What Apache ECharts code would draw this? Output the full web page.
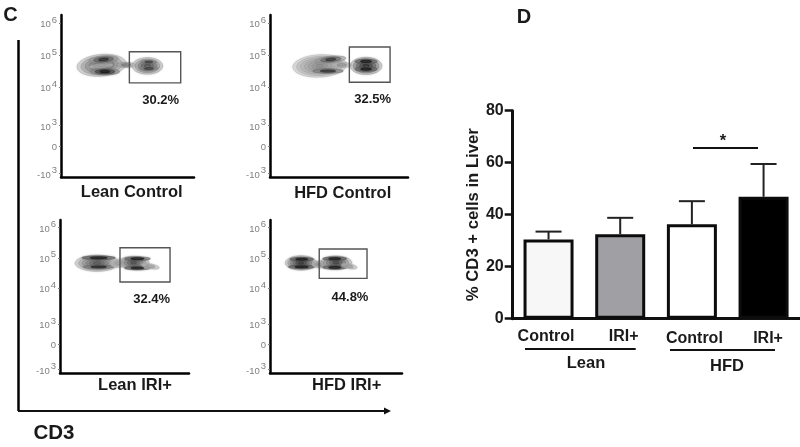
<!DOCTYPE html>
<html><head><meta charset="utf-8">
<script src="https://cdn.jsdelivr.net/npm/echarts@6/dist/echarts.min.js"></script>
<style>html,body{margin:0;padding:0;background:#fff}#c{width:800px;height:447px}</style>
</head><body><div id="c"></div>
<script>
// ---- Panel D: bar chart data
const barCategories = ['Control', 'IRI+', 'Control', 'IRI+'];
const barMeans = [30.5, 32.5, 36.3, 46.9];
const barErrorTops = [33.5, 38.8, 45.2, 59.5];
const barColors = ['#f7f7f7', '#a0a0a4', '#ffffff', '#000000'];
const barLabelPadding = [[0,5,0,0],[0,0,0,7],[2,0,0,5],[2,0,0,9]];
const barTicks = [0, 20, 40, 60, 80];

// ---- Panel C: flow plots. y unit = decade position on the biexponential axis
const flowTickValues = [1.3, 2.15, 2.8, 4, 5, 6];
const flowTickLabels = ['-10^3', '0', '10^3', '10^4', '10^5', '10^6'];
const flowTitles = ['Lean Control', 'HFD Control', 'Lean IRI+', 'HFD IRI+'];
const flowPercents = ['30.2%', '32.5%', '32.4%', '44.8%'];
// gate: [xMin, xMax, yMin, yMax]
const flowGates = [
  [51.4, 90, 4.13, 5.10],
  [57.5, 87, 4.15, 5.25],
  [46.5, 85.3, 4.20, 5.33],
  [37.3, 73.5, 4.32, 5.29]
];
// contour clusters: [x, y, xRadius, yRadius, tiltDegrees, tone 0-1, levels]
const leanControlContours = [
  [30.5, 4.68, 18.5, 0.34, 5, 0.62, 6],
  [33, 4.48, 11, 0.10, 0, 1.1, 3],
  [32, 4.86, 11, 0.11, 5, 0.85, 3],
  [30, 4.66, 9, 0.06, 5, 0.2, 2],
  [49, 4.69, 7, 0.08, 0, 0.45, 2],
  [65, 4.66, 11.5, 0.26, 0, 0.65, 5],
  [66, 4.58, 7, 0.06, 0, 0.75, 2],
  [66, 4.78, 6, 0.05, 0, 0.75, 2]
];
const hfdControlContours = [
  [36, 4.66, 19.5, 0.35, 3, 0.32, 7],
  [42, 4.50, 11, 0.07, 0, 0.85, 2],
  [44, 4.86, 11, 0.10, 5, 0.8, 3],
  [52, 4.69, 7, 0.08, 0, 0.3, 2],
  [69.6, 4.66, 11.5, 0.27, 0, 0.85, 5],
  [69.6, 4.80, 8, 0.07, 0, 1.1, 2],
  [69.6, 4.56, 8, 0.07, 0, 1.1, 2]
];
const leanIriContours = [
  [28.7, 4.82, 17, 0.27, 0, 0.6, 6],
  [30, 5.00, 13, 0.06, 0, 1.2, 2],
  [30, 4.70, 12, 0.06, 0, 0.9, 2],
  [45, 4.82, 6, 0.14, 0, 0.25, 3],
  [57, 4.84, 12, 0.21, 0, 0.65, 5],
  [60, 4.97, 10, 0.06, 0, 1.1, 2],
  [60, 4.66, 10, 0.06, 0, 1.2, 2],
  [70, 4.72, 7, 0.08, -10, 0.25, 2]
];
const hfdIriContours = [
  [23.5, 4.83, 12, 0.24, 0, 0.75, 6],
  [24, 4.95, 9, 0.06, 0, 1.2, 2],
  [24, 4.70, 10, 0.06, 0, 1.2, 2],
  [38, 4.78, 6, 0.12, 0, 0.4, 3],
  [50, 4.84, 12, 0.22, 0, 0.7, 5],
  [49, 4.97, 9, 0.06, 0, 1.2, 2],
  [49, 4.68, 9, 0.06, 0, 1.2, 2],
  [60, 4.72, 6, 0.08, -10, 0.25, 2]
];
const flowContours = [leanControlContours, hfdControlContours, leanIriContours, hfdIriContours];

// ---- Layout
const FONT = '"Liberation Sans", Arial, sans-serif';
const flowGrids = [
  {left: 61, top: 15, width: 133, height: 162},
  {left: 270, top: 15, width: 138, height: 162},
  {left: 60, top: 220, width: 129, height: 153},
  {left: 270, top: 220, width: 132, height: 153}
];
const titleAt = [[131.7, 192.5], [342.7, 193], [135, 385], [346.7, 385]];
const percentAt = [[160.7, 100], [372.7, 99], [151.7, 299], [350, 297.7]];

const grids = [], xAxes = [], yAxes = [], series = [];
flowGrids.forEach((g, i) => {
  grids.push(g);
  xAxes.push({gridIndex: i, type: 'value', min: 0, max: 100, show: true,
    axisLine: {onZero: false, lineStyle: {color: '#000', width: 2.5}},
    axisTick: {show: false}, axisLabel: {show: false}, splitLine: {show: false}});
  yAxes.push({gridIndex: i, type: 'value', min: 1.19, max: 6.25,
    axisLine: {show: true, onZero: false, lineStyle: {color: '#000', width: 2.5}},
    axisTick: {show: true, length: 2, customValues: flowTickValues, lineStyle: {color: '#777', width: 1}},
    splitLine: {show: false},
    axisLabel: {
      show: true, margin: 4, customValues: flowTickValues,
      formatter: v => {
        const idx = flowTickValues.indexOf(v);
        const t = flowTickLabels[idx];
        if (!t) return '';
        const p = t.split('^');
        return p.length > 1 ? '{b|' + p[0] + '}{s|' + p[1] + '}' : '{b|' + t + '}';
      },
      rich: {
        b: {fontFamily: FONT, fontSize: 9.5, color: '#808080', padding: [3, 0, 0, 0]},
        s: {fontFamily: FONT, fontSize: 9.5, color: '#808080', padding: [0, 0, 6, 1]}
      }
    }});
  series.push({
    type: 'custom', xAxisIndex: i, yAxisIndex: i, coordinateSystem: 'cartesian2d',
    data: flowContours[i], silent: true, clip: false,
    encode: {x: 0, y: 1},
    renderItem: (params, api) => {
      const c = api.coord([api.value(0), api.value(1)]);
      const sz = api.size([1, 1]);
      const rx = api.value(2) * sz[0], ry = api.value(3) * sz[1];
      const tilt = api.value(4), tone = api.value(5), n = api.value(6);
      const kids = [];
      for (let k = 0; k < n; k++) {
        const f = 1 - k / n;
        const shade = Math.max(25, Math.round(205 - 190 * tone * ((k + 1) / n)));
        kids.push({type: 'ellipse', rotation: tilt * Math.PI / 180, originX: c[0], originY: c[1],
          shape: {cx: c[0], cy: c[1], rx: rx * f, ry: ry * f},
          style: {fill: 'rgba(' + shade + ',' + shade + ',' + shade + ',0.5)',
            stroke: 'rgba(' + (shade - 20) + ',' + (shade - 20) + ',' + (shade - 20) + ',0.7)', lineWidth: 0.7,
            shadowBlur: 2, shadowColor: 'rgba(' + shade + ',' + shade + ',' + shade + ',0.6)'}});
      }
      return {type: 'group', children: kids};
    }
  });
  series.push({
    type: 'custom', xAxisIndex: i, yAxisIndex: i, coordinateSystem: 'cartesian2d',
    data: [flowGates[i]], silent: true, clip: false,
    encode: {x: [0, 1], y: [2, 3]},
    renderItem: (params, api) => {
      const a = api.coord([api.value(0), api.value(3)]);
      const b = api.coord([api.value(1), api.value(2)]);
      return {type: 'rect', shape: {x: a[0], y: a[1], width: b[0] - a[0], height: b[1] - a[1]},
        style: {fill: 'none', stroke: '#555', lineWidth: 1.4}};
    }
  });
});

// Bar chart grid
const B = flowGrids.length;
grids.push({left: 512.7, top: 110.7, width: 286.7, height: 208});
xAxes.push({gridIndex: B, type: 'category',
  data: barCategories.map((c, i) => ({value: c, textStyle: {padding: barLabelPadding[i]}})),
  axisLine: {lineStyle: {color: '#111', width: 3}},
  axisTick: {alignWithLabel: true, length: 8, lineStyle: {color: '#111', width: 2}},
  axisLabel: {interval: 0, margin: 10, fontFamily: FONT, fontWeight: 'bold', fontSize: 16, color: '#1a1a1a'}});
yAxes.push({gridIndex: B, type: 'value', min: 0, max: 80, interval: 20,
  name: '% CD3 + cells in Liver', nameLocation: 'middle', nameGap: 28, nameRotate: 90,
  nameTextStyle: {fontFamily: FONT, fontWeight: 'bold', fontSize: 16.7, color: '#1a1a1a'},
  axisLine: {show: true, lineStyle: {color: '#111', width: 3}},
  axisTick: {show: true, length: 8, lineStyle: {color: '#111', width: 2.5}},
  splitLine: {show: false},
  axisLabel: {margin: 9, fontFamily: FONT, fontWeight: 'bold', fontSize: 16, color: '#1a1a1a',
    customValues: barTicks}});
series.push({
  type: 'custom', xAxisIndex: B, yAxisIndex: B, coordinateSystem: 'cartesian2d',
  data: barMeans.map((m, i) => [i, m, barErrorTops[i]]), silent: true, z: 1,
  encode: {x: 0, y: [1, 2]},
  renderItem: (params, api) => {
    const lo = api.coord([api.value(0), api.value(1)]);
    const hi = api.coord([api.value(0), api.value(2)]);
    const st = {stroke: '#222', lineWidth: 2, fill: 'none'};
    return {type: 'group', children: [
      {type: 'line', shape: {x1: lo[0], y1: lo[1], x2: hi[0], y2: hi[1]}, style: st},
      {type: 'line', shape: {x1: hi[0] - 13, y1: hi[1], x2: hi[0] + 13, y2: hi[1]}, style: st}
    ]};
  }
});
series.push({
  type: 'bar', xAxisIndex: B, yAxisIndex: B, barWidth: 50, z: 2,
  data: barMeans.map((v, i) => ({value: v, itemStyle: {color: barColors[i]}})),
  itemStyle: {borderColor: '#0c0c0c', borderWidth: 3}
});

// Annotations
const txt = (x, y, text, size, align, extra) => ({type: 'text', x, y, silent: true, z: 10,
  style: Object.assign({text, fontFamily: FONT, fontWeight: 'bold', fontSize: size,
    fill: '#1a1a1a', align: align || 'center', verticalAlign: 'middle'}, extra || {})});
const seg = (x1, y1, x2, y2, w, col) => ({type: 'line', silent: true, z: 10,
  shape: {x1, y1, x2, y2}, style: {stroke: col || '#111', lineWidth: w}});
const graphics = [
  txt(10.5, 15.5, 'C', 20),
  txt(524, 17, 'D', 20),
  txt(54, 433, 'CD3', 20.5),
  seg(18.5, 40, 18.5, 411, 2.5, '#000'),
  seg(18, 411, 386, 411, 2, '#111'),
  {type: 'polygon', silent: true, z: 10, shape: {points: [[384, 407.5], [391, 411], [384, 414.5]]}, style: {fill: '#111'}},
  seg(525, 349, 635.7, 349, 2),
  seg(670, 350, 775, 350, 2),
  seg(693, 148, 758, 148, 2.2),
  txt(586, 363, 'Lean', 16.5),
  txt(727, 366, 'HFD', 16.5),
  txt(723, 141, '*', 16.5)
];
flowTitles.forEach((t, i) => graphics.push(txt(titleAt[i][0], titleAt[i][1], t, 16.5)));
flowPercents.forEach((t, i) => graphics.push(txt(percentAt[i][0], percentAt[i][1], t, 13)));

const chart = echarts.init(document.getElementById('c'), null, {renderer: 'canvas'});
chart.setOption({
  animation: false, backgroundColor: '#fff',
  grid: grids, xAxis: xAxes, yAxis: yAxes, series, graphic: graphics
});
</script></body></html>
